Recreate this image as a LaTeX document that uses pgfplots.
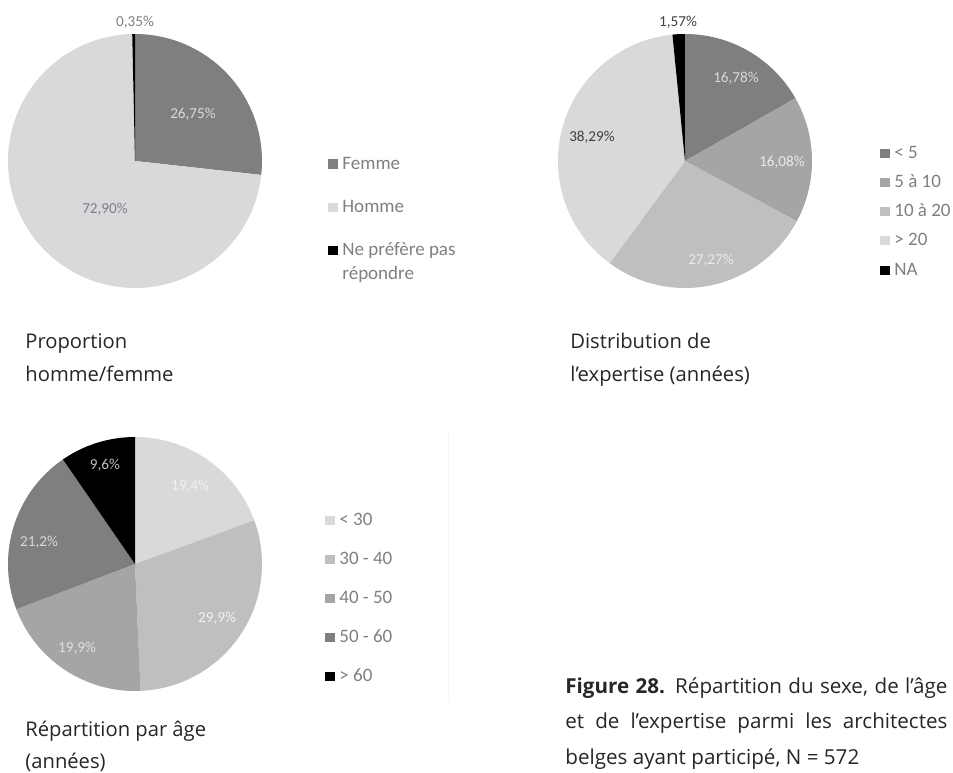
\documentclass[border=0pt]{standalone}
\usepackage{pgfplots}
\pgfplotsset{compat=1.18}
\usepackage{pgfplotstable}
\usepackage{fontspec}
\setmainfont{Open Sans}
\newfontfamily\calib{Carlito}

\definecolor{gA}{HTML}{7F7F7F}
\definecolor{gB}{HTML}{A5A5A5}
\definecolor{gC}{HTML}{BFBFBF}
\definecolor{gD}{HTML}{D9D9D9}
\definecolor{gK}{HTML}{000000}
\definecolor{legtxt}{HTML}{7F7F7F}
\definecolor{titletxt}{HTML}{262626}

% Proportion homme/femme
\pgfplotstableread{
label value color
Femme 26.75 gA
Homme 72.90 gD
NPP 0.35 gK
}\pieA
% Distribution de l'expertise
\pgfplotstableread{
label value color
lt5 16.78 gA
5a10 16.08 gB
10a20 27.27 gC
gt20 38.29 gD
NA 1.57 gK
}\pieB
% Repartition par age
\pgfplotstableread{
label value color
lt30 19.4 gD
30-40 29.9 gC
40-50 19.9 gB
50-60 21.2 gA
gt60 9.6 gK
}\pieC

\newcommand{\drawpie}[1]{%
  \pgfplotstablegetrowsof{#1}\let\nrows\pgfplotsretval
  \pgfmathtruncatemacro{\lastrow}{\nrows-1}%
  \def\cum{0}%
  \pgfplotsforeachungrouped \i in {0,...,\lastrow}{%
    \pgfplotstablegetelem{\i}{value}\of{#1}\let\val\pgfplotsretval
    \pgfplotstablegetelem{\i}{color}\of{#1}\let\col\pgfplotsretval
    \pgfmathsetmacro{\aS}{90-3.6*\cum}%
    \pgfmathsetmacro{\aE}{90-3.6*(\cum+\val)}%
    \pgfmathsetmacro{\cum}{\cum+\val}%
    \edef\doslice{\noexpand\addplot[fill=\col, draw=none, domain=\aE:\aS, samples=120] ({127*cos(x)},{127*sin(x)}) -- (0,0) -- cycle;}%
    \doslice
  }%
}

\pgfplotsset{piestyle/.style={x=0.5pt, y=0.5pt, xmin=-130, xmax=130, ymin=-130, ymax=130, hide axis, anchor=center, clip=false}}

\newcommand{\legitem}[4]{%
  \fill[#3] (#1,#2-4.5) rectangle (#1+10,#2+5);
  \node[anchor=base west, inner sep=0pt, text=legtxt, font=\calib\fontsize{9.5pt}{11pt}\selectfont] at (#1+14,#2+5.5) {#4};
}

\begin{document}
\begin{tikzpicture}
\begin{axis}[piestyle, at={(67.5pt,-80.5pt)}]
  \drawpie{\pieA}
\end{axis}
\begin{axis}[piestyle, at={(342.5pt,-80.5pt)}]
  \drawpie{\pieB}
\end{axis}
\begin{axis}[piestyle, at={(67.5pt,-282pt)}]
  \drawpie{\pieC}
\end{axis}

\begin{scope}[x=0.5pt, y=-0.5pt]
  \path[use as bounding box] (0,0) rectangle (953,772);

  % faint separator line
  \draw[color=black!3, line width=0.4pt] (448,430) -- (448,702);

  % slice labels
  \tikzset{lab/.style={inner sep=0pt, font=\calib\fontsize{7.6pt}{9pt}\selectfont}}
  \node[lab, text=gA] at (135,22) {0,35\%};
  \node[lab, text=gD] at (193,114) {26,75\%};
  \node[lab, text={rgb,255:red,122;green,128;blue,144}] at (105,209) {72,90\%};

  \node[lab, text=black!75] at (678,22) {1,57\%};
  \node[lab, text=gD] at (736,78) {16,78\%};
  \node[lab, text=black!8] at (782,162) {16,08\%};
  \node[lab, text=black!8] at (711,260) {27,27\%};
  \node[lab, text=black!75] at (592,137) {38,29\%};

  \node[lab, text=gC] at (105,465) {9,6\%};
  \node[lab, text=black!5] at (190,486) {19,4\%};
  \node[lab, text=black!5] at (217,618) {29,9\%};
  \node[lab, text=black!12] at (77,648) {19,9\%};
  \node[lab, text=gD] at (39,542) {21,2\%};

  % legends
  \legitem{328}{163.5}{gA}{Femme}
  \legitem{328}{207}{gD}{Homme}
  \legitem{328}{250}{gK}{Ne préfère pas}
  \node[anchor=base west, inner sep=0pt, text=legtxt, font=\calib\fontsize{9.5pt}{11pt}\selectfont] at (342,279) {répondre};

  \legitem{880}{153}{gA}{< 5}
  \legitem{880}{182}{gB}{5 à 10}
  \legitem{880}{211}{gC}{10 à 20}
  \legitem{880}{240}{gD}{> 20}
  \legitem{880}{270}{gK}{NA}

  \legitem{325}{520}{gD}{< 30}
  \legitem{325}{559}{gC}{30 - 40}
  \legitem{325}{598}{gB}{40 - 50}
  \legitem{325}{637}{gA}{50 - 60}
  \legitem{325}{676}{gK}{> 60}

  % titles
  \tikzset{ttl/.style={anchor=base west, inner sep=0pt, text=titletxt, font=\fontsize{10.1pt}{12pt}\selectfont}}
  \node[ttl] at (25,348) {Proportion};
  \node[ttl] at (25,381) {homme/femme};
  \node[ttl] at (570,348) {Distribution de};
  \node[ttl] at (570,381) {l’expertise (années)};
  \node[ttl] at (25,736) {Répartition par âge};
  \node[ttl] at (25,768) {(années)};

  % caption
  \tikzset{captxt/.style={anchor=base west, inner sep=0pt, text=titletxt, font=\fontsize{10.3pt}{12pt}\selectfont}}
  \node[captxt] at (565,693) {\makebox[191pt][s]{\textbf{Figure 28.} Répartition du sexe, de l’âge}};
  \node[captxt] at (565,728.5) {\makebox[191pt][s]{et de l’expertise parmi les architectes}};
  \node[captxt] at (565,764) {belges ayant participé, N = 572};
\end{scope}
\end{tikzpicture}
\end{document}
